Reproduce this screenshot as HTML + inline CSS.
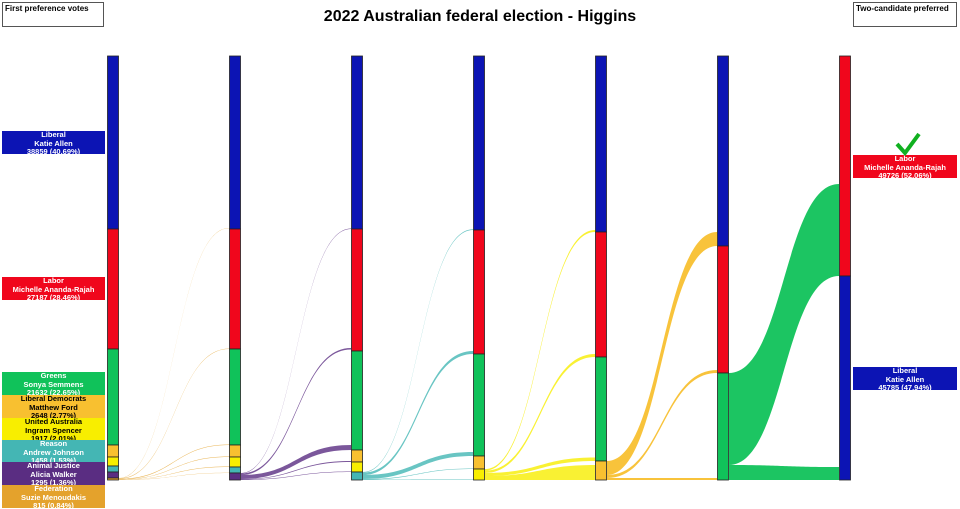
<!DOCTYPE html>
<html><head><meta charset="utf-8"><style>
body{margin:0;background:#fff;width:960px;height:509px;overflow:hidden;font-family:"Liberation Sans",sans-serif}
.lb{position:absolute;left:2px;width:103px;font-size:7.5px;font-weight:bold;text-align:center;line-height:8.5px;overflow:hidden;color:#fff;white-space:nowrap}
.rb{position:absolute;left:853px;width:104px;font-size:7.5px;font-weight:bold;text-align:center;line-height:8.5px;color:#fff;overflow:hidden;white-space:nowrap}
.box{position:absolute;top:2px;height:25px;width:102px;border:1px solid #555;font-size:8px;font-weight:bold;padding:1px 2px;box-sizing:border-box;white-space:nowrap}
</style></head><body>
<div class="box" style="left:2px">First preference votes</div>
<div class="box" style="left:853px;width:104px">Two-candidate preferred</div>
<div style="position:absolute;top:8px;left:0;width:960px;text-align:center;font-size:16px;font-weight:bold">2022 Australian federal election - Higgins</div>
<svg id="s" width="960" height="509" style="position:absolute;left:0;top:0"></svg>
<div class="lb" style="top:131px;height:23px;background:#0c14b4">Liberal<br>Katie Allen<br>38859 (40.69%)</div>
<div class="lb" style="top:277px;height:23px;background:#f0061c">Labor<br>Michelle Ananda-Rajah<br>27187 (28.46%)</div>
<div class="lb" style="top:372px;height:23px;background:#10c25a">Greens<br>Sonya Semmens<br>21632 (22.65%)</div>
<div class="lb" style="top:395px;height:23px;background:#f8c030;color:#000">Liberal Democrats<br>Matthew Ford<br>2648 (2.77%)</div>
<div class="lb" style="top:418px;height:22px;background:#f8ee00;color:#000">United Australia<br>Ingram Spencer<br>1917 (2.01%)</div>
<div class="lb" style="top:440px;height:22px;background:#44b6b4">Reason<br>Andrew Johnson<br>1458 (1.53%)</div>
<div class="lb" style="top:462px;height:23px;background:#5a2d82">Animal Justice<br>Alicia Walker<br>1295 (1.36%)</div>
<div class="lb" style="top:485px;height:23px;background:#e4a22c">Federation<br>Suzie Menoudakis<br>815 (0.84%)</div>
<div class="rb" style="top:155px;height:23px;background:#f0061c">Labor<br>Michelle Ananda-Rajah<br>49726 (52.06%)</div>
<div class="rb" style="top:367px;height:23px;background:#0c14b4">Liberal<br>Katie Allen<br>45785 (47.94%)</div>
<svg style="position:absolute;left:894px;top:131px" width="28" height="26"><path d="M3,13 L11,22 L25,3" fill="none" stroke="#10b020" stroke-width="4"/></svg>
<script>
var C={L:"#0c14b4",A:"#f0061c",G:"#10c25a",D:"#f8c030",U:"#f8ee00",R:"#44b6b4",J:"#5a2d82",F:"#e4a22c"};
var xs=[107,229,351,473,595,717,839];
var cols=[
[["L",56,229],["A",229,349],["G",349,445],["D",445,457],["U",457,466],["R",466,472],["J",472,478],["F",478,480]],
[["L",56,229],["A",229,349],["G",349,445],["D",445,457],["U",457,467],["R",467,473],["J",473,480]],
[["L",56,229],["A",229,351],["G",351,450],["D",450,462],["U",462,472],["R",472,480]],
[["L",56,230],["A",230,354],["G",354,456],["D",456,469],["U",469,480]],
[["L",56,232],["A",232,357],["G",357,461],["D",461,480]],
[["L",56,246],["A",246,373],["G",373,480]],
[["A",56,276],["L",276,480]]];
var flows=[
[0,"F",[[478,478.3,228,228.3],[478.3,478.8,348.6,349],[478.8,479.4,444.5,445],[479.4,479.7,456.5,457],[479.7,479.9,466.5,467],[479.9,480,472.8,473]]],
[1,"J",[[473,473.4,228.5,229],[473.4,475,348,349.5],[475,479,445,450],[479,479.5,461,462],[479.5,480,471.5,472]]],
[2,"R",[[472,472.6,229.3,230],[472.6,475,351,354],[475,479,452,456],[479,479.6,468.5,469],[479.6,480,479.5,480]]],
[3,"U",[[469,470.6,230,232],[470.6,473,354,357],[473,476,457.5,461],[476,480,465,480]]],
[4,"D",[[461,475,232,246],[475,478,370,373],[478,480,478,480]]],
[5,"G",[[373,465,184,276],[465,480,467,480]]]];
var h="";
flows.forEach(function(f){var x0=xs[f[0]]+12,x1=xs[f[0]+1],m=(x0+x1)/2;
f[2].forEach(function(b){h+='<path d="M'+x0+','+b[0]+'C'+m+','+b[0]+' '+m+','+b[2]+' '+x1+','+b[2]+'L'+x1+','+b[3]+'C'+m+','+b[3]+' '+m+','+b[1]+' '+x0+','+b[1]+'Z" fill="'+C[f[1]]+'" opacity="'+(f[0]>=4?0.95:0.8)+'"/>';});});
cols.forEach(function(c,i){c.forEach(function(s){h+='<rect x="'+(xs[i]+0.5)+'" y="'+s[1]+'" width="11" height="'+(s[2]-s[1])+'" fill="'+C[s[0]]+'" stroke="#222" stroke-width="0.8"/>';});});
document.getElementById("s").innerHTML=h;
</script>
</body></html>
